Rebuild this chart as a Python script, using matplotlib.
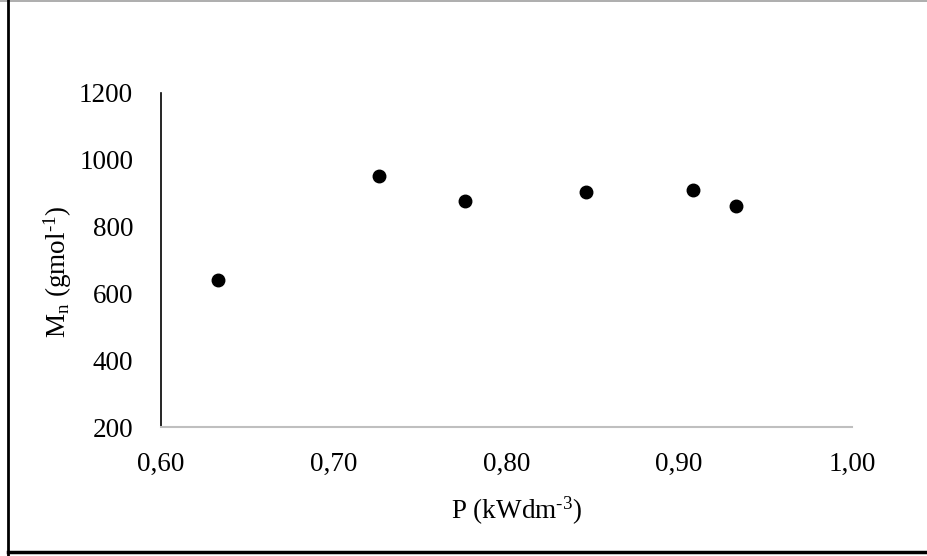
import matplotlib
matplotlib.use("Agg")
import matplotlib.pyplot as plt
from matplotlib.lines import Line2D
from matplotlib.ticker import FixedLocator, FuncFormatter

plt.rcParams["font.family"] = ["Liberation Serif", "DejaVu Serif"]
plt.rcParams["mathtext.fontset"] = "custom"
plt.rcParams["mathtext.rm"] = "Liberation Serif"
plt.rcParams["mathtext.it"] = "Liberation Serif:italic"

# power input vs number-average molar mass
power = [0.633, 0.726, 0.776, 0.846, 0.908, 0.933]
mn = [640, 951, 875, 904, 910, 861]

x_ticks = [0.60, 0.70, 0.80, 0.90, 1.00]
y_ticks = [200, 400, 600, 800, 1000, 1200]

fs = 19.5

fig = plt.figure(figsize=(9.28, 5.56), dpi=100)
ax = fig.add_axes([0.1735, 0.232, 0.7445, 0.601])

ax.plot(power, mn, "o", color="black", markersize=9, linestyle="none")

ax.set_xlim(0.60, 1.00)
ax.set_ylim(200, 1200)
ax.xaxis.set_major_locator(FixedLocator(x_ticks))
ax.yaxis.set_major_locator(FixedLocator(y_ticks))
ax.xaxis.set_major_formatter(FuncFormatter(lambda v, p: f"{v:.2f}".replace(".", ",")))
ax.tick_params(axis="both", length=0, labelsize=fs, colors="black")
ax.tick_params(axis="x", pad=18)
ax.tick_params(axis="y", pad=20)

ax.spines["top"].set_visible(False)
ax.spines["right"].set_visible(False)
ax.spines["left"].set_color("black")
ax.spines["left"].set_linewidth(1.2)
ax.spines["bottom"].set_color("#bfbfbf")
ax.spines["bottom"].set_linewidth(1.5)

# axis titles
fig.text(517 / 928, 1 - 511 / 556, "P (kWdm$^{\u2010 3}$)", fontsize=fs, ha="center", va="center")
fig.text(58 / 928, 1 - 272 / 556, "M$_{\\mathrm{n}}$ (gmol$^{\u2010 1}$)", fontsize=fs,
         ha="center", va="center", rotation=90)

# outer frame: thin grey top, black left and bottom
fig.add_artist(Line2D([0, 1], [0.999, 0.999], color="#a0a0a0", linewidth=1.2, transform=fig.transFigure))
fig.add_artist(Line2D([8 / 928, 8 / 928], [0, 1], color="black", linewidth=2, transform=fig.transFigure))
fig.add_artist(Line2D([8 / 928, 1], [1 - 552 / 556] * 2, color="black", linewidth=2.5, transform=fig.transFigure))

fig.savefig("out.png", dpi=100)
plt.close(fig)
